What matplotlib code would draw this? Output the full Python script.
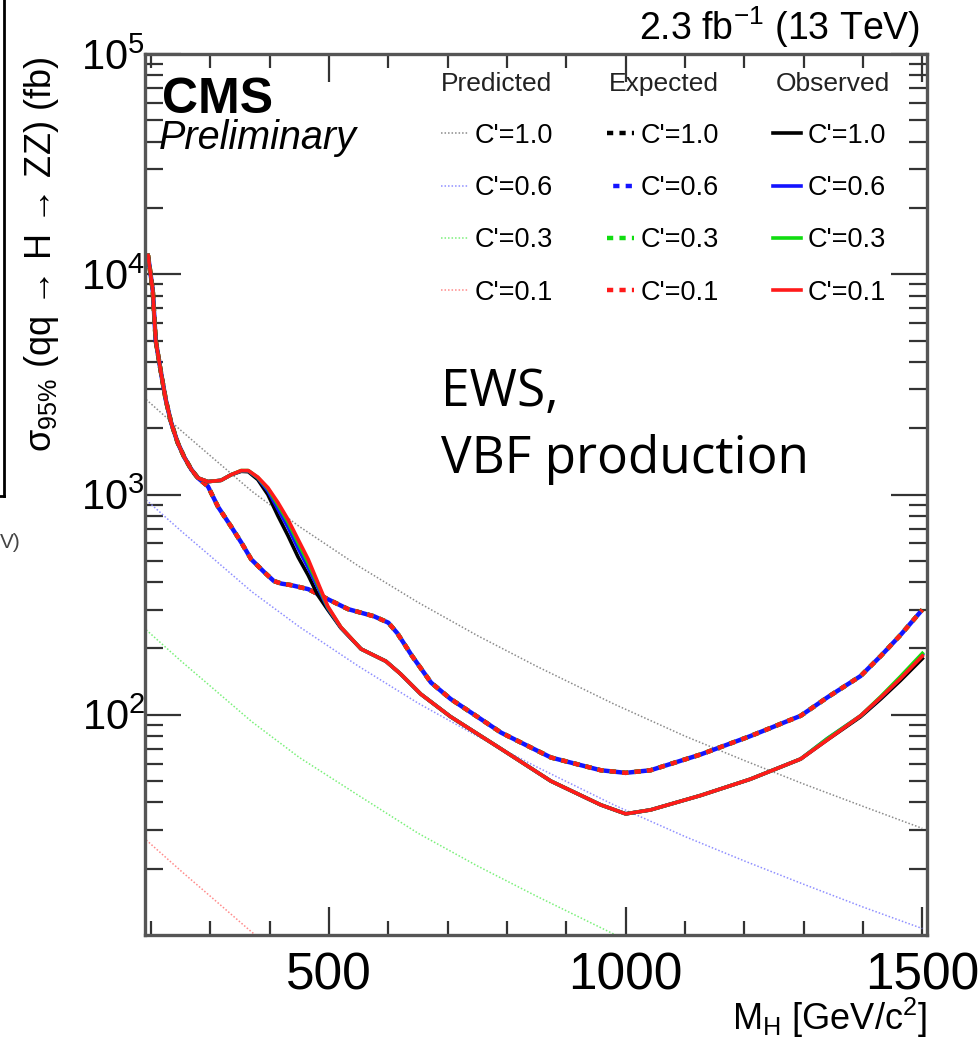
import numpy as np
import matplotlib.pyplot as plt
from matplotlib.lines import Line2D
from matplotlib.ticker import MultipleLocator, LogLocator, NullFormatter, FixedLocator

plt.rcParams['font.family'] = ['Liberation Sans', 'DejaVu Sans']
plt.rcParams['mathtext.fontset'] = 'custom'
plt.rcParams['mathtext.rm'] = 'Liberation Sans'
plt.rcParams['mathtext.it'] = 'Liberation Sans:italic'

# predicted cross sections (thin dotted)
m_pred = [192, 250, 300, 370, 450, 550, 650, 750, 850, 980, 1100, 1200, 1300, 1400, 1500]
pred_10 = [2700, 1960, 1500, 1035, 716, 473, 324, 229, 166, 112, 80, 62, 48.5, 38.4, 30.5]
pred_06 = [945, 686, 526, 362, 251, 166, 113, 80, 58, 39, 28, 21.7, 17, 13.4, 10.7]
pred_03 = [243, 176, 135, 93, 64, 43, 29, 20.6, 15, 10.1, 7.2, 5.6, 4.4, 3.5, 2.7]
pred_01 = [27, 19.6, 15, 10.3, 7.2, 4.7, 3.2, 2.3, 1.7, 1.1, 0.8, 0.6, 0.5, 0.4, 0.3]

# expected limit (same for all C')
m_exp = [195, 203, 208, 217, 225, 234, 245, 256, 268, 279, 296, 313, 335, 352, 369,
         391, 407, 420, 436, 465, 498, 532, 576, 600, 615, 640, 672, 705, 750, 790, 874, 958,
         1000, 1042, 1126, 1210, 1295, 1340, 1396, 1430, 1463, 1500]
exp_lim = [12200, 8470, 5000, 3560, 2690, 2120, 1720, 1480, 1300, 1190, 1090, 880, 716,
           607, 508, 444, 405, 394, 388, 372, 335, 302, 280, 262, 235, 185, 140, 118, 98, 83, 64, 56,
           54.5, 56, 66, 80, 99, 120, 150, 185, 230, 300]

# observed limits
m_obs = [195, 203, 208, 217, 225, 234, 245, 256, 268, 279, 296, 318, 335, 352, 364,
         380, 397, 414, 431, 448, 465, 481, 498, 520, 554, 596, 621, 655, 705, 790, 874,
         958, 1000, 1042, 1126, 1210, 1295, 1340, 1396, 1430, 1463, 1500]
obs_10 = [12200, 8470, 5000, 3560, 2690, 2120, 1720, 1480, 1300, 1190, 1145, 1160, 1230,
          1275, 1270, 1170, 1000, 800, 650, 520, 430, 350, 300, 248, 199, 175, 153, 124, 98, 70, 50,
          39, 35.5, 37, 43, 51, 63, 77, 98, 118, 143, 180]
obs_06 = [12200, 8470, 5000, 3560, 2690, 2120, 1720, 1480, 1300, 1190, 1145, 1160, 1230,
          1280, 1280, 1190, 1040, 860, 710, 570, 465, 380, 305, 249, 199, 175, 153, 124, 98, 70, 50,
          39, 35.5, 37, 43, 51, 63, 78, 99, 120, 147, 188]
obs_03 = [12200, 8470, 5000, 3560, 2690, 2120, 1720, 1480, 1300, 1190, 1145, 1160, 1230,
          1285, 1285, 1195, 1065, 900, 750, 605, 490, 392, 308, 250, 199, 175, 153, 124, 98, 70, 50,
          39, 35.5, 37, 43, 51, 63, 78, 99, 121, 149, 190]
obs_01 = [12200, 8470, 5000, 3560, 2690, 2120, 1720, 1480, 1300, 1190, 1145, 1160, 1230,
          1285, 1285, 1200, 1075, 920, 770, 625, 508, 400, 311, 250, 199, 175, 153, 124, 98, 70, 50,
          39, 35.5, 37, 43, 51, 63, 77, 99, 120, 146, 185]

cprimes = ['1.0', '0.6', '0.3', '0.1']
pred_colors = ['#8a8a8a', '#8f8fff', '#7af07a', '#ff8a8a']
line_colors = ['black', '#1414ff', '#10dd10', '#ff1a1a']

fig = plt.figure(figsize=(9.8, 10.38), dpi=100)
ax = fig.add_axes([0.148, 0.0992, 0.798, 0.8487])

handles = []
for vals, col, c in zip([pred_10, pred_06, pred_03, pred_01], pred_colors, cprimes):
    h, = ax.plot(m_pred, vals, color=col, lw=1.1, linestyle=(0, (1, 1.3)), label="C'=" + c)
    handles.append(h)
offsets = [0, 1.4, 0, 0]
for off, col, c in zip(offsets, line_colors, cprimes):
    h, = ax.plot(m_exp, exp_lim, color=col, lw=3.2, linestyle=(off, (1.4, 1.4)), label="C'=" + c)
    handles.append(h)
for vals, col, c in zip([obs_10, obs_06, obs_03, obs_01], line_colors, cprimes):
    h, = ax.plot(m_obs, vals, color=col, lw=2.6, label="C'=" + c)
    handles.append(h)

ax.set_yscale('log')
ax.set_xlim(190, 1508)
ax.set_ylim(10, 1e5)

ax.xaxis.set_major_locator(FixedLocator([500, 1000, 1500]))
ax.xaxis.set_minor_locator(MultipleLocator(100))
ax.yaxis.set_major_locator(FixedLocator([100, 1000, 1e4, 1e5]))
ax.yaxis.set_minor_locator(LogLocator(base=10, subs=np.arange(2, 10)))
ax.yaxis.set_minor_formatter(NullFormatter())

ax.tick_params(which='both', direction='in', top=True, right=True, color='#333333', width=1.6)
ax.tick_params(axis='y', which='major', length=26, labelsize=30, pad=0)
ax.tick_params(axis='y', which='minor', length=13)
ax.tick_params(axis='x', which='major', length=20, labelsize=37, pad=12)
ax.tick_params(axis='x', which='minor', length=10)
for s in ax.spines.values():
    s.set_linewidth(2.4)
    s.set_color('#555555')

ax.set_xlabel(r'M$_{\mathrm{H}}$ [GeV/c$^{2}$]', fontsize=26, loc='right')
ax.xaxis.set_label_coords(1.0, -0.069)
ax.set_ylabel('σ$_{95\\%}$ (qq → H → ZZ) (fb)', fontsize=26, loc='top')
ax.yaxis.set_label_coords(-0.108, 0.997)

ax.text(0.991, 1.005, r'2.3 fb$^{-1}$ (13 TeV)', transform=ax.transAxes, ha='right', va='bottom',
        fontsize=27)
ax.text(0.022, 0.948, 'CMS', transform=ax.transAxes, fontsize=36, fontweight='bold', va='center')
ax.text(0.018, 0.905, 'Preliminary', transform=ax.transAxes, fontsize=28.5, style='italic', va='center')

for x, t in zip([0.378, 0.593, 0.807], ['Predicted', 'Expected', 'Observed']):
    ax.text(x, 0.966, t, transform=ax.transAxes, fontsize=19, color='#222222', va='center')
ax.legend(handles=handles, ncol=3, loc='upper left', bbox_to_anchor=(0.378, 0.922),
          frameon=False, fontsize=19.5, handlelength=1.0, handletextpad=0.25,
          columnspacing=2.0, labelspacing=0.97, borderpad=0, borderaxespad=0)

ax.text(0.378, 0.511, 'EWS,\nVBF production', transform=ax.transAxes, fontsize=37,
        family=['Open Sans', 'DejaVu Sans'], linespacing=1.4, va='bottom')

# slide remnants at the left edge
fig.add_artist(Line2D([0.004, 0.004], [1.0, 1 - 496 / 1038], color='black', lw=2))
fig.add_artist(Line2D([0.0, 0.004], [1 - 496 / 1038, 1 - 496 / 1038], color='black', lw=2))
fig.text(0.0, 1 - 543 / 1038, 'V)', fontsize=15, color='#444444', va='center')

fig.savefig('out.png', dpi=100)
